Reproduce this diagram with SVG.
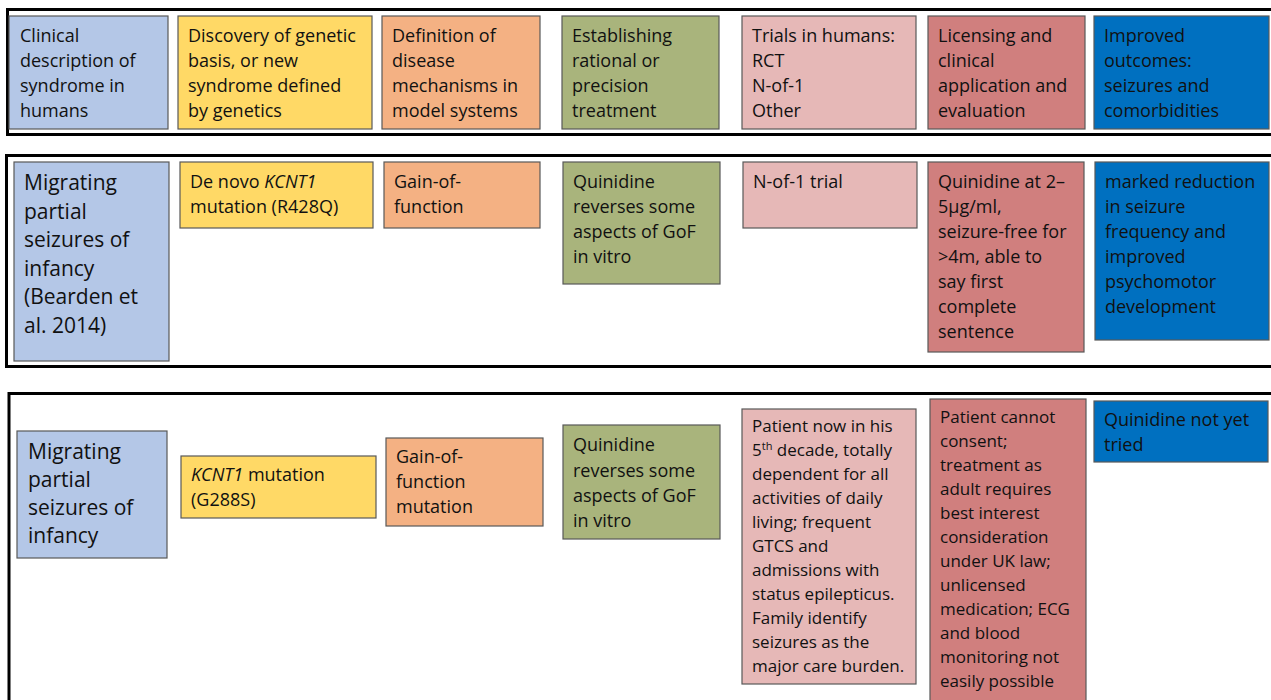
<svg xmlns="http://www.w3.org/2000/svg" width="1271" height="700" viewBox="0 0 1271 700">
<style>
  .panel { fill: none; stroke: #000; stroke-width: 3; }
  .box { stroke: #595959; stroke-width: 1.2; }
  .b1 { fill: #b4c7e7; }
  .b2 { fill: #ffd966; }
  .b3 { fill: #f4b183; }
  .b4 { fill: #a9b47c; }
  .b5 { fill: #e6b8b7; }
  .b6 { fill: #d07f7e; }
  .b7 { fill: #0070c0; }
  text { font-family: "Open Sans", "Liberation Sans", sans-serif; fill: #111; }
  .t18 { font-size: 18px; }
  .t17 { font-size: 17px; }
  .t21 { font-size: 21px; }
  .it { font-style: italic; }
</style>
<rect width="1271" height="700" fill="#fff"/>

<g id="panels">
  <rect class="panel" x="7.5" y="9.5" width="1290" height="125"/>
  <rect class="panel" x="6.5" y="155.5" width="1290" height="211"/>
  <rect class="panel" x="9" y="393.5" width="1290" height="340"/>
</g>

<g id="connectors"></g>

<!-- Row 1 -->
<g id="r1-clinical">
  <rect class="box b1" x="9" y="16" width="159" height="113"/>
  <text class="t18" x="20" y="42">Clinical</text>
  <text class="t18" x="20" y="67">description of</text>
  <text class="t18" x="20" y="92">syndrome in</text>
  <text class="t18" x="20" y="117">humans</text>
</g>
<g id="r1-discovery">
  <rect class="box b2" x="178" y="16" width="194" height="113"/>
  <text class="t18" x="188" y="42">Discovery of genetic</text>
  <text class="t18" x="188" y="67">basis, or new</text>
  <text class="t18" x="188" y="92">syndrome defined</text>
  <text class="t18" x="188" y="117">by genetics</text>
</g>
<g id="r1-definition">
  <rect class="box b3" x="382" y="16" width="158" height="113"/>
  <text class="t18" x="392" y="42">Definition of</text>
  <text class="t18" x="392" y="67">disease</text>
  <text class="t18" x="392" y="92">mechanisms in</text>
  <text class="t18" x="392" y="117">model systems</text>
</g>
<g id="r1-establishing">
  <rect class="box b4" x="562" y="16" width="157" height="113"/>
  <text class="t18" x="572" y="42">Establishing</text>
  <text class="t18" x="572" y="67">rational or</text>
  <text class="t18" x="572" y="92">precision</text>
  <text class="t18" x="572" y="117">treatment</text>
</g>
<g id="r1-trials">
  <rect class="box b5" x="742" y="16" width="174" height="113"/>
  <text class="t18" x="752" y="42">Trials in humans:</text>
  <text class="t18" x="752" y="67">RCT</text>
  <text class="t18" x="752" y="92">N-of-1</text>
  <text class="t18" x="752" y="117">Other</text>
</g>
<g id="r1-licensing">
  <rect class="box b6" x="928" y="16" width="157" height="113"/>
  <text class="t18" x="938" y="42">Licensing and</text>
  <text class="t18" x="938" y="67">clinical</text>
  <text class="t18" x="938" y="92">application and</text>
  <text class="t18" x="938" y="117">evaluation</text>
</g>
<g id="r1-outcomes">
  <rect class="box b7" x="1094" y="16" width="175" height="113"/>
  <text class="t18" x="1104" y="42">Improved</text>
  <text class="t18" x="1104" y="67">outcomes:</text>
  <text class="t18" x="1104" y="92">seizures and</text>
  <text class="t18" x="1104" y="117">comorbidities</text>
</g>

<!-- Row 2 -->
<g id="r2-syndrome">
  <rect class="box b1" x="14" y="162" width="155" height="199"/>
  <text class="t21" x="24" y="190">Migrating</text>
  <text class="t21" x="24" y="218.5">partial</text>
  <text class="t21" x="24" y="247">seizures of</text>
  <text class="t21" x="24" y="275.5">infancy</text>
  <text class="t21" x="24" y="304">(Bearden et</text>
  <text class="t21" x="24" y="332.5">al. 2014)</text>
</g>
<g id="r2-genetic">
  <rect class="box b2" x="180" y="162" width="193" height="66"/>
  <text class="t18" x="190" y="188">De novo <tspan class="it">KCNT1</tspan></text>
  <text class="t18" x="190" y="213">mutation (R428Q)</text>
</g>
<g id="r2-mechanism">
  <rect class="box b3" x="384" y="162" width="156" height="66"/>
  <text class="t18" x="394" y="188">Gain-of-</text>
  <text class="t18" x="394" y="213">function</text>
</g>
<g id="r2-treatment">
  <rect class="box b4" x="563" y="162" width="157" height="122"/>
  <text class="t18" x="573" y="188">Quinidine</text>
  <text class="t18" x="573" y="213">reverses some</text>
  <text class="t18" x="573" y="238">aspects of GoF</text>
  <text class="t18" x="573" y="263">in vitro</text>
</g>
<g id="r2-trial">
  <rect class="box b5" x="743" y="162" width="174" height="66"/>
  <text class="t18" x="753" y="188">N-of-1 trial</text>
</g>
<g id="r2-application">
  <rect class="box b6" x="928" y="162" width="156" height="190"/>
  <text class="t18" x="938" y="188">Quinidine at 2–</text>
  <text class="t18" x="938" y="213">5µg/ml,</text>
  <text class="t18" x="938" y="238">seizure-free for</text>
  <text class="t18" x="938" y="263">&gt;4m, able to</text>
  <text class="t18" x="938" y="288">say first</text>
  <text class="t18" x="938" y="313">complete</text>
  <text class="t18" x="938" y="338">sentence</text>
</g>
<g id="r2-outcome">
  <rect class="box b7" x="1095" y="162" width="174" height="178"/>
  <text class="t18" x="1105" y="188">marked reduction</text>
  <text class="t18" x="1105" y="213">in seizure</text>
  <text class="t18" x="1105" y="238">frequency and</text>
  <text class="t18" x="1105" y="263">improved</text>
  <text class="t18" x="1105" y="288">psychomotor</text>
  <text class="t18" x="1105" y="313">development</text>
</g>

<!-- Row 3 -->
<g id="r3-syndrome">
  <rect class="box b1" x="17" y="431" width="150" height="127"/>
  <text class="t21" x="28" y="459">Migrating</text>
  <text class="t21" x="28" y="487">partial</text>
  <text class="t21" x="28" y="515">seizures of</text>
  <text class="t21" x="28" y="543">infancy</text>
</g>
<g id="r3-genetic">
  <rect class="box b2" x="181" y="456" width="195" height="62"/>
  <text class="t18" x="191" y="481"><tspan class="it">KCNT1</tspan> mutation</text>
  <text class="t18" x="191" y="506">(G288S)</text>
</g>
<g id="r3-mechanism">
  <rect class="box b3" x="386" y="438" width="157" height="88"/>
  <text class="t18" x="396" y="463">Gain-of-</text>
  <text class="t18" x="396" y="488">function</text>
  <text class="t18" x="396" y="513">mutation</text>
</g>
<g id="r3-treatment">
  <rect class="box b4" x="563" y="425" width="157" height="114"/>
  <text class="t18" x="573" y="451">Quinidine</text>
  <text class="t18" x="573" y="476.5">reverses some</text>
  <text class="t18" x="573" y="502">aspects of GoF</text>
  <text class="t18" x="573" y="527">in vitro</text>
</g>
<g id="r3-patient">
  <rect class="box b5" x="742" y="409" width="174" height="275"/>
  <text class="t17" x="752" y="432">Patient now in his</text>
  <text class="t17" x="752" y="456">5<tspan font-size="11" dy="-6">th</tspan><tspan dy="6"> decade, totally</tspan></text>
  <text class="t17" x="752" y="480">dependent for all</text>
  <text class="t17" x="752" y="504">activities of daily</text>
  <text class="t17" x="752" y="528">living; frequent</text>
  <text class="t17" x="752" y="552">GTCS and</text>
  <text class="t17" x="752" y="576">admissions with</text>
  <text class="t17" x="752" y="600">status epilepticus.</text>
  <text class="t17" x="752" y="624">Family identify</text>
  <text class="t17" x="752" y="648">seizures as the</text>
  <text class="t17" x="752" y="672">major care burden.</text>
</g>
<g id="r3-consent">
  <rect class="box b6" x="930" y="399" width="156" height="310"/>
  <text class="t17" x="940" y="423">Patient cannot</text>
  <text class="t17" x="940" y="447">consent;</text>
  <text class="t17" x="940" y="471">treatment as</text>
  <text class="t17" x="940" y="495">adult requires</text>
  <text class="t17" x="940" y="519">best interest</text>
  <text class="t17" x="940" y="543">consideration</text>
  <text class="t17" x="940" y="567">under UK law;</text>
  <text class="t17" x="940" y="591">unlicensed</text>
  <text class="t17" x="940" y="615">medication; ECG</text>
  <text class="t17" x="940" y="639">and blood</text>
  <text class="t17" x="940" y="663">monitoring not</text>
  <text class="t17" x="940" y="687">easily possible</text>
</g>
<g id="r3-outcome">
  <rect class="box b7" x="1094" y="401" width="174" height="61"/>
  <text class="t18" x="1104" y="426">Quinidine not yet</text>
  <text class="t18" x="1104" y="451">tried</text>
</g>
</svg>
